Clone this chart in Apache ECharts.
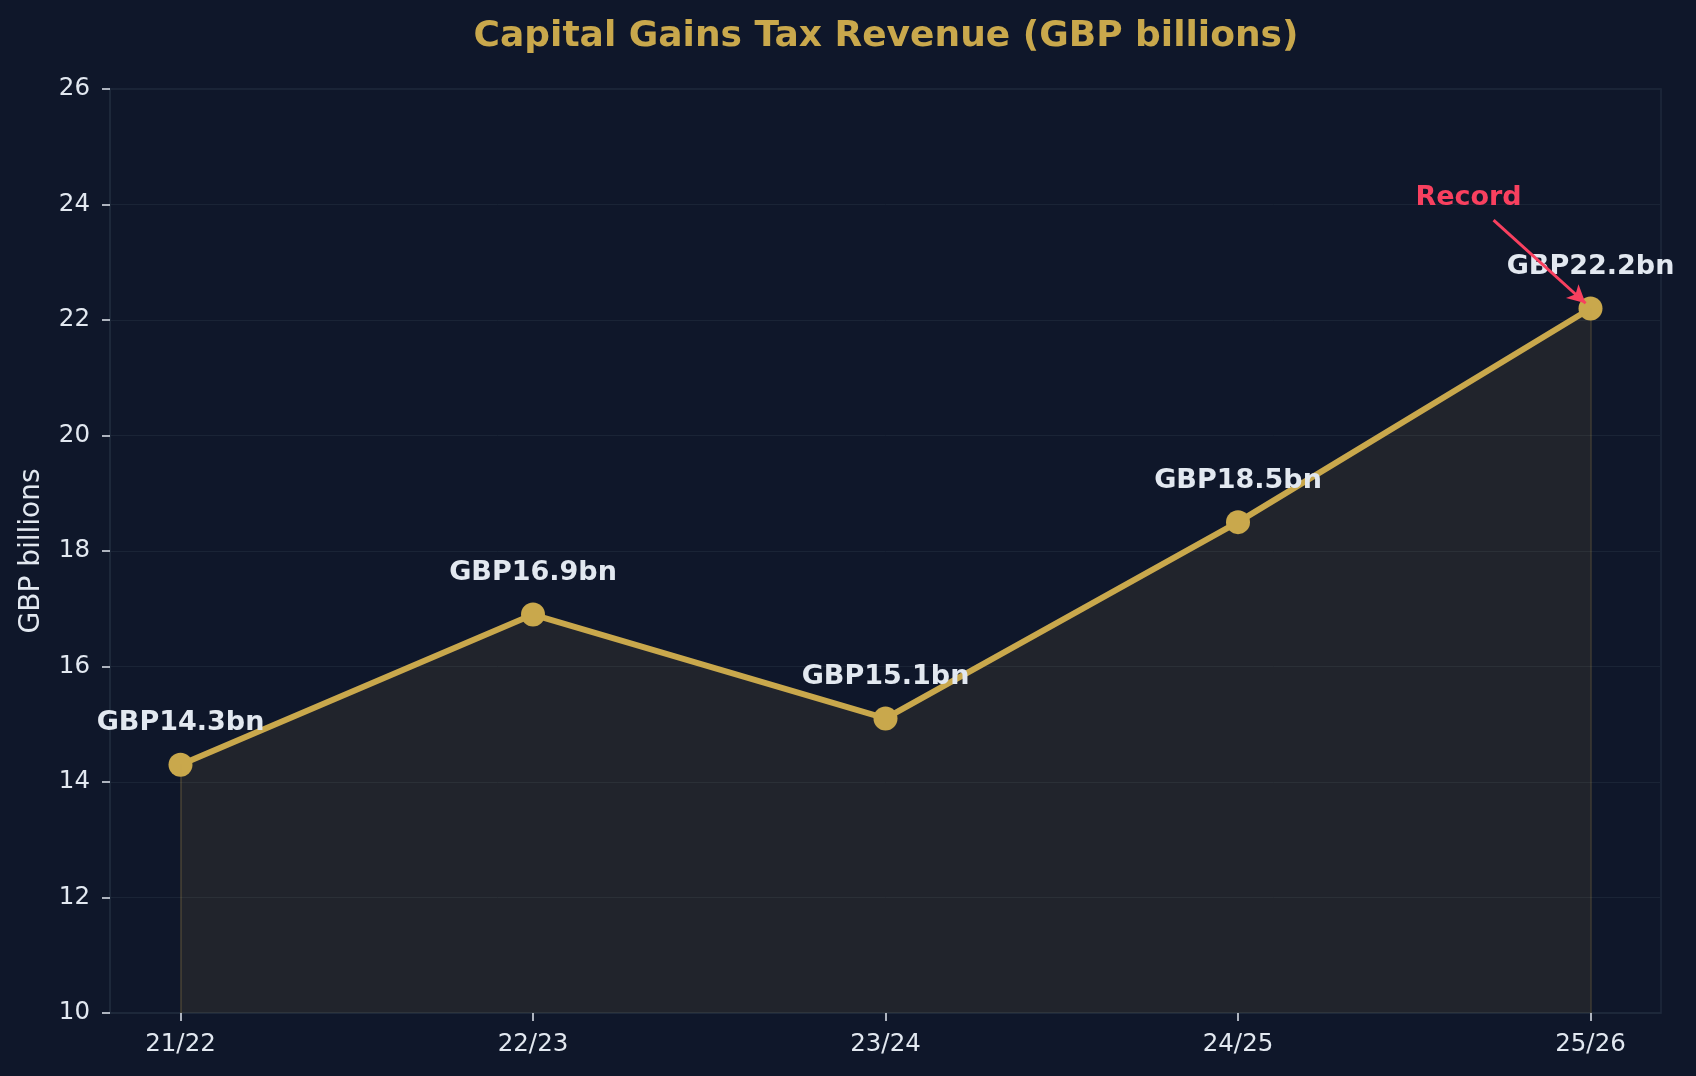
<!DOCTYPE html>
<html>
<head>
<meta charset="utf-8">
<script src="https://cdn.jsdelivr.net/npm/echarts@6/dist/echarts.min.js"></script>
<style>
html,body{margin:0;padding:0;background:#0f172a;}
#chart{width:1696px;height:1076px;}
</style>
</head>
<body>
<div id="chart"></div>
<script>
const categories = ['21/22', '22/23', '23/24', '24/25', '25/26'];
const revenue = [14.3, 16.9, 15.1, 18.5, 22.2];
const yTicks = [10, 12, 14, 16, 18, 20, 22, 24, 26];
const annotationText = 'Record';
const annotationTextAt = [3.654, 24.12];
const arrowFrom = [3.725, 23.73];
const arrowTo = [3.986, 22.29];

const FONT = 'DejaVu Sans';
const GOLD = '#c9a84c';
const TEXT = '#e2e8f0';
const RED = '#f8405f';
const BG = '#0f172a';
const SPINE = '#1f2a3c';
const GRID = '#1a2436';

const last = categories.length - 1;
const chart = echarts.init(document.getElementById('chart'), null, {renderer: 'canvas'});
chart.setOption({
  backgroundColor: BG,
  animation: false,
  title: {
    text: 'Capital Gains Tax Revenue (GBP billions)',
    left: 881,
    textAlign: 'center',
    top: 14,
    textStyle: {color: GOLD, fontFamily: FONT, fontWeight: 'bold', fontSize: 36}
  },
  grid: {
    left: 110, right: 35, top: 89, bottom: 63,
    outerBoundsMode: 'none',
    show: true, borderColor: SPINE, borderWidth: 1.5, backgroundColor: BG
  },
  xAxis: {
    type: 'value',
    min: -0.2, max: 4.2,
    splitLine: {show: false},
    axisLine: {show: true, onZero: false, lineStyle: {color: SPINE, width: 1.5}},
    axisTick: {show: true, customValues: categories.map((c, i) => i), length: 8, lineStyle: {color: TEXT, width: 1.5}},
    axisLabel: {
      customValues: categories.map((c, i) => i),
      formatter: v => categories[Math.round(v)],
      color: TEXT, fontFamily: FONT, fontSize: 24.5, margin: 19
    }
  },
  yAxis: {
    type: 'value',
    min: yTicks[0], max: yTicks[yTicks.length - 1], interval: 2,
    name: 'GBP billions',
    nameLocation: 'middle',
    nameGap: 64,
    nameTextStyle: {color: TEXT, fontFamily: FONT, fontSize: 28},
    splitLine: {show: true, lineStyle: {color: GRID, width: 1}},
    axisLine: {show: true, onZero: false, lineStyle: {color: SPINE, width: 1.5}},
    axisTick: {show: true, length: 8, lineStyle: {color: TEXT, width: 1.5}},
    axisLabel: {color: TEXT, fontFamily: FONT, fontSize: 24.5, margin: 20}
  },
  series: [
    {
      type: 'line',
      data: categories.map((c, i) => [i, revenue[i]]),
      symbol: 'circle',
      symbolSize: 24,
      lineStyle: {color: GOLD, width: 6},
      itemStyle: {color: GOLD},
      areaStyle: {color: 'rgba(201,168,76,0.14)', origin: 'start'},
      label: {
        show: true, position: 'top', distance: 16,
        formatter: p => 'GBP' + p.value[1].toFixed(1) + 'bn',
        color: TEXT, fontFamily: FONT, fontWeight: 'bold', fontSize: 27
      },
      markLine: {
        silent: true,
        symbol: ['none', 'none'],
        label: {show: false},
        lineStyle: {color: 'rgba(201,168,76,0.18)', width: 2, type: 'solid'},
        data: [
          [{coord: [0, yTicks[0]]}, {coord: [0, revenue[0]]}],
          [{coord: [last, yTicks[0]]}, {coord: [last, revenue[last]]}]
        ]
      },
      z: 3
    },
    {
      type: 'scatter',
      data: [annotationTextAt],
      symbolSize: 0,
      silent: true,
      itemStyle: {opacity: 1},
      label: {
        show: true, position: 'inside', formatter: annotationText,
        color: RED, fontFamily: FONT, fontWeight: 'bold', fontSize: 27
      },
      markLine: {
        silent: true,
        symbol: ['none', 'arrow'],
        symbolSize: [14, 18],
        label: {show: false},
        lineStyle: {color: RED, width: 3, type: 'solid', opacity: 1},
        data: [[{coord: arrowFrom}, {coord: arrowTo}]]
      },
      z: 4
    }
  ]
});
</script>
</body>
</html>
